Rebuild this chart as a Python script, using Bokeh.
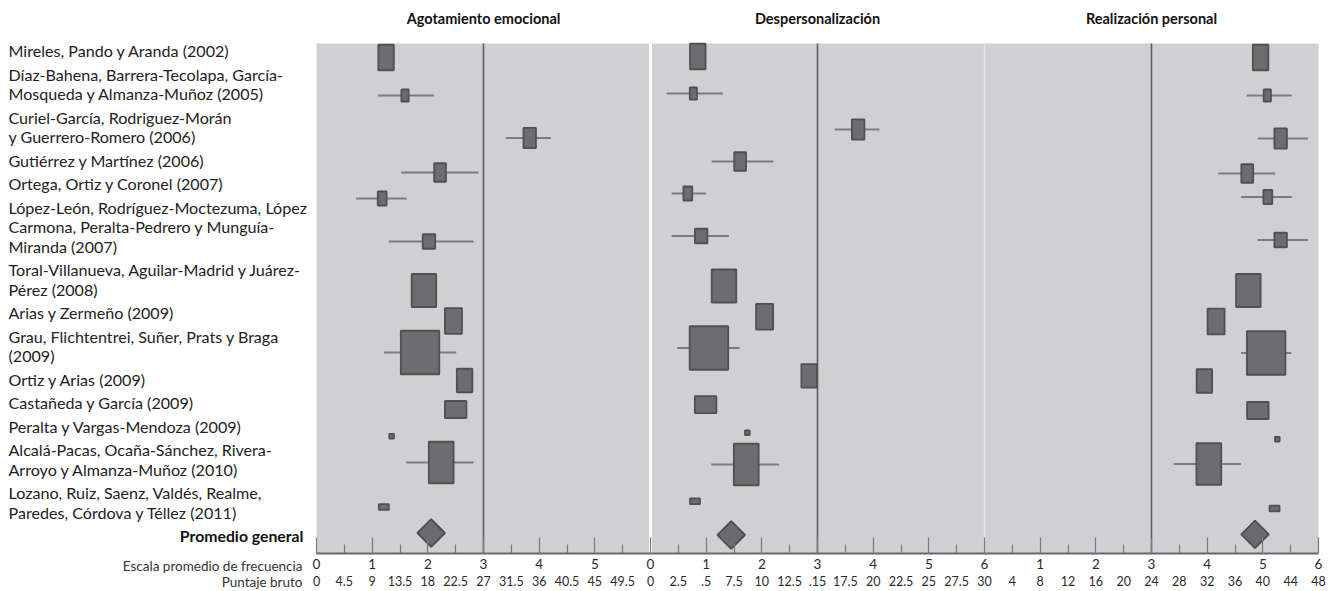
import math
from bokeh.plotting import figure
from bokeh.models import Range1d, FixedTicker, LinearAxis
from bokeh.core.properties import value
from bokeh.embed import file_html
from bokeh.resources import INLINE

# ---------------- data ----------------
estudios = [
    "Mireles, Pando y Aranda (2002)",
    "Díaz-Bahena, Barrera-Tecolapa, García-\nMosqueda y Almanza-Muñoz (2005)",
    "Curiel-García, Rodriguez-Morán\ny Guerrero-Romero (2006)",
    "Gutiérrez y Martínez (2006)",
    "Ortega, Ortiz y Coronel (2007)",
    "López-León, Rodríguez-Moctezuma, López\nCarmona, Peralta-Pedrero y Munguía-\nMiranda (2007)",
    "Toral-Villanueva, Aguilar-Madrid y Juárez-\nPérez (2008)",
    "Arias y Zermeño (2009)",
    "Grau, Flichtentrei, Suñer, Prats y Braga\n(2009)",
    "Ortiz y Arias (2009)",
    "Castañeda y García (2009)",
    "Peralta y Vargas-Mendoza (2009)",
    "Alcalá-Pacas, Ocaña-Sánchez, Rivera-\nArroyo y Almanza-Muñoz (2010)",
    "Lozano, Ruiz, Saenz, Valdés, Realme,\nParedes, Córdova y Téllez (2011)",
]
promedio_txt = "Promedio general"
dimensiones = ["Agotamiento emocional", "Despersonalización", "Realización personal"]
escala_txt = "Escala promedio de frecuencia"
bruto_txt = "Puntaje bruto"

nan = float("nan")
# Agotamiento emocional
media_ae = [1.25, 1.59, 3.83, 2.22, 1.18, 2.02, 1.93, 2.46, 1.86, 2.66, 2.50, 1.35, 2.24, 1.21]
li_ae = [nan, 1.10, 3.40, 1.52, 0.71, 1.30, nan, nan, 1.21, nan, nan, nan, 1.61, nan]
ls_ae = [nan, 2.11, 4.21, 2.91, 1.62, 2.82, nan, nan, 2.51, nan, nan, nan, 2.82, nan]
prom_ae = 2.06
# Despersonalización
media_dp = [0.85, 0.77, 3.73, 1.61, 0.67, 0.91, 1.32, 2.05, 1.05, 2.85, 0.99, 1.74, 1.72, 0.80]
li_dp = [nan, 0.29, 3.31, 1.10, 0.38, 0.38, nan, nan, 0.48, nan, nan, nan, 1.09, nan]
ls_dp = [nan, 1.30, 4.11, 2.21, 1.00, 1.41, nan, nan, 1.60, nan, nan, nan, 2.31, nan]
prom_dp = 1.45
# Realización personal
media_rp = [4.96, 5.08, 5.32, 4.72, 5.09, 5.32, 4.74, 4.16, 5.06, 3.95, 4.91, 5.26, 4.03, 5.21]
li_rp = [nan, 4.71, 4.91, 4.20, 4.61, 4.91, nan, nan, 4.61, nan, nan, nan, 3.40, nan]
ls_rp = [nan, 5.52, 5.81, 5.22, 5.52, 5.81, nan, nan, 5.51, nan, nan, nan, 4.61, nan]
prom_rp = 4.86

# study weight boxes (as drawn, px)
peso_ancho = [17, 8.7, 14, 13.3, 10.3, 14, 26, 18.5, 40, 17, 23, 6.2, 26.3, 11.5]
peso_alto = [27, 13.5, 21.7, 20, 15.5, 16, 34.5, 27.2, 45, 25, 18.5, 6.3, 43, 7.2]

# tick labels
escala_ae = ["0", "1", "2", "3", "4", "5"]
escala_dp = ["0", "1", "2", "3", "4", "5", "6"]
escala_rp = ["1", "2", "3", "4", "5", "6"]
bruto_ae = ["0", "4.5", "9", "13.5", "18", "22.5", "27", "31.5", "36", "40.5", "45", "49.5"]
bruto_dp = ["0", "2.5", ".5", "7.5", "10", "12.5", ".15", "17.5", "20", "22.5", "25", "27.5", "30"]
bruto_rp = ["4", "8", "12", "16", "20", "24", "28", "32", "36", "40", "44", "48"]

# ---------------- layout (vertical row positions, px from top) ----------------
fila_ae = [57, 95, 137.5, 172, 198, 241, 290, 320.5, 352, 380, 409, 435.7, 462, 506.5]
fila_dp = [56, 93, 129, 161, 193, 235.5, 285.5, 316.3, 347.5, 375.3, 404.2, 432.3, 464, 500.8]
fila_rp = [57, 95, 138, 173, 196.5, 239.5, 290, 321, 352.5, 380.5, 410, 438.7, 463.5, 508]
fila_prom = [532.5, 534.5, 533.8]

FONT = "Lato"
TOP, BOT = 43, 553
W, H = 1328, 589
S = 1002 / 18.0   # px per scale unit
X0 = 316          # px of panel-1 origin


def ux(px):
    return (px - X0) / S


p = figure(width=W, height=H, x_range=Range1d(ux(0), ux(W)), y_range=Range1d(H, 0),
           min_border=0, toolbar_location=None, output_backend="svg",
           x_axis_location=None, y_axis_location=None, outline_line_color=None)
p.grid.visible = False

off = [0, 6, 12]
# panel backgrounds
p.quad(left=off, right=[o + 6 for o in off], bottom=[BOT] * 3, top=[TOP] * 3,
       fill_color="#d0d0d2", line_color=None)
p.segment(x0=[6], x1=[6], y0=[TOP], y1=[BOT], line_color="white", line_width=3)
p.segment(x0=[12], x1=[12], y0=[TOP], y1=[BOT], line_color="#e4e4e6", line_width=1.5)
p.segment(x0=[o + 3 for o in off], x1=[o + 3 for o in off], y0=[TOP] * 3, y1=[BOT] * 3,
          line_color="#5e5e60", line_width=1.6)

# titles
p.text(x=[o + 3 for o in off], y=[18] * 3, text=dimensiones, text_align="center",
       text_baseline="middle", text_font=value(FONT),
       text_font_style="bold", text_font_size="14.5px", text_color="#111111")

# study labels
ly, lt = [], []
y = 50.0
for e in estudios:
    parts = e.split("\n")
    for j, t in enumerate(parts):
        ly.append(y + j * 19.5)
        lt.append(t)
    y += (len(parts) - 1) * 19.5 + 23.5
p.text(x=[ux(8)] * len(lt), y=ly, text=lt, text_font=value(FONT), text_font_size="16.1px",
       text_baseline="middle", text_align="left", text_color="#222222")
p.text(x=[ux(303)], y=[y], text=[promedio_txt], text_font=value(FONT), text_font_size="15.8px",
       text_font_style="bold", text_baseline="middle", text_align="right", text_color="#111111")
p.text(x=[ux(302)] * 2, y=[565, 581], text=[escala_txt, bruto_txt], text_font=value(FONT),
       text_font_size="13.5px", text_baseline="middle", text_align="right", text_color="#333333")

series = [(media_ae, li_ae, ls_ae, prom_ae, fila_ae),
          (media_dp, li_dp, ls_dp, prom_dp, fila_dp),
          (media_rp, li_rp, ls_rp, prom_rp, fila_rp)]
for k, (m, lo, hi, pr, fy) in enumerate(series):
    o = off[k]
    idx = [i for i in range(len(m)) if not math.isnan(lo[i])]
    p.segment(x0=[lo[i] + o for i in idx], x1=[hi[i] + o for i in idx],
              y0=[fy[i] for i in idx], y1=[fy[i] for i in idx],
              line_color="#7c7c7e", line_width=2)
    p.rect(x=[v + o for v in m], y=fy, width=[w - 1.5 for w in peso_ancho],
           height=[h - 1.5 for h in peso_alto], width_units="screen", height_units="screen",
           fill_color="#6d6d6f", line_color="#505052", line_width=1.8)
    p.scatter(x=[pr + o], y=[fila_prom[k]], marker="square", size=19.5, angle=math.pi / 4,
              fill_color="#6b6b6d", line_color="#4e4e50", line_width=1.8)

# axis 1: mean frequency scale
ov1 = {}
for o, labs, start in [(0, escala_ae, 0), (6, escala_dp, 0), (12, escala_rp, 1)]:
    for j, t in enumerate(labs):
        ov1[float(o + start + j)] = t
ax1 = LinearAxis(ticker=FixedTicker(ticks=[float(i) for i in range(19)],
                                    minor_ticks=[i + 0.5 for i in range(18)]),
                 major_label_overrides=ov1, fixed_location=BOT, bounds=(0, 18))
ax1.axis_line_color = "#68686a"
ax1.axis_line_width = 2
ax1.major_tick_in = 16
ax1.major_tick_out = 0
ax1.minor_tick_in = 9
ax1.minor_tick_out = 0
ax1.major_tick_line_color = "#7a7a7c"
ax1.minor_tick_line_color = "#7a7a7c"
ax1.major_tick_line_width = 1.2
ax1.minor_tick_line_width = 1.2
ax1.major_label_standoff = 5
ax1.major_label_text_font = FONT
ax1.major_label_text_font_size = "13.5px"
ax1.major_label_text_color = "#2a2a2a"
p.add_layout(ax1, "below")

# axis 2: raw score
ov2 = {}
for o, labs, start in [(0, bruto_ae, 0.0), (6, bruto_dp, 0.0), (12, bruto_rp, 0.5)]:
    for j, t in enumerate(labs):
        ov2[o + start + 0.5 * j] = t
ax2 = LinearAxis(ticker=FixedTicker(ticks=[0.5 * i for i in range(37)], minor_ticks=[]),
                 major_label_overrides=ov2, fixed_location=575, bounds=(0, 18))
ax2.axis_line_color = None
ax2.major_tick_line_color = None
ax2.minor_tick_line_color = None
ax2.major_tick_in = 0
ax2.major_tick_out = 0
ax2.major_label_standoff = 0
ax2.major_label_text_font = FONT
ax2.major_label_text_font_size = "12.5px"
ax2.major_label_text_color = "#2a2a2a"
p.add_layout(ax2, "below")

open("out.html", "w").write(file_html(p, INLINE))
